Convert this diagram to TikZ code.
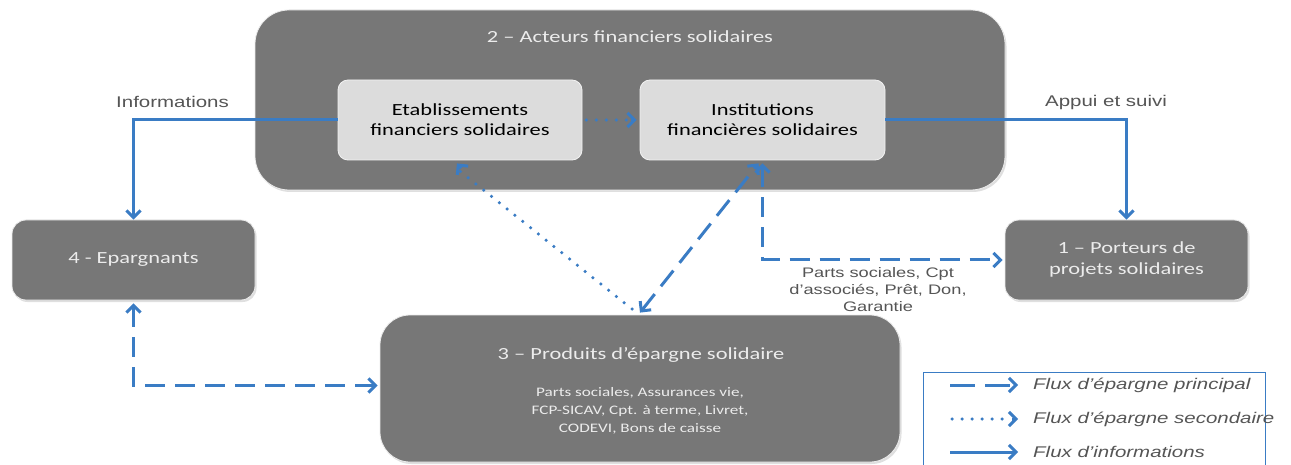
\documentclass[tikz,border=0pt]{standalone}
\usepackage{fontspec}
\setmainfont{Carlito}[FakeStretch=1.32]
\newfontfamily\arialf{Liberation Sans}[FakeStretch=1.32]
\usetikzlibrary{arrows.meta,shadows}
\definecolor{boxgray}{HTML}{777777}
\definecolor{lightbox}{HTML}{DCDCDC}
\definecolor{flowblue}{HTML}{3A7CC4}
\definecolor{txtgray}{HTML}{555555}
\definecolor{boxtxt}{HTML}{ECECEC}
\tikzset{
  x=1pt, y=-1pt,
  darkbox/.style={rectangle, rounded corners=14pt, fill=boxgray, draw=white!85!gray, line width=0.8pt,
    drop shadow={shadow xshift=1.5pt, shadow yshift=-2pt, opacity=0.25}, text=boxtxt, align=center, inner sep=0pt},
  lightbox/.style={rectangle, rounded corners=10pt, fill=lightbox, draw=white!90!gray, line width=0.8pt,
    drop shadow={shadow xshift=1pt, shadow yshift=-1.5pt, opacity=0.3}, text=black, align=center, inner sep=0pt,
    minimum width=244pt, minimum height=80pt, font=\fontsize{17}{20}\selectfont},
  tip/.style={-{Straight Barb[length=7pt,width=14pt,line width=3pt]}},
  bitip/.style={{Straight Barb[length=7pt,width=14pt,line width=3pt]}-{Straight Barb[length=7pt,width=14pt,line width=3pt]}},
  infoflow/.style={draw=flowblue, line width=3pt, tip},
  mainflow/.style={draw=flowblue, line width=3pt, dash pattern=on 20pt off 10pt},
  secflow/.style={draw=flowblue, line width=3.5pt, line cap=round, dash pattern=on 0pt off 10pt},
  flowlabel/.style={font=\arialf\fontsize{15.5}{18}\selectfont, text=txtgray, align=center, inner sep=0pt},
  legtext/.style={font=\arialf\itshape\fontsize{15.5}{18}\selectfont, text=txtgray, anchor=west, inner sep=0pt},
}
\begin{document}
\begin{tikzpicture}
\useasboundingbox[fill=white] (0,0) rectangle (1291,465);
% main boxes
\node[darkbox, rounded corners=34pt, minimum width=750pt, minimum height=180pt] (acteurs) at (630,100) {};
\node[text=boxtxt, font=\fontsize{17}{20}\selectfont, inner sep=0pt] (acteurstitle) at (630,37) {2 – Acteurs financiers solidaires};
\node[lightbox] (etab) at (460,120) {Etablissements\\financiers solidaires};
\node[lightbox, minimum width=245pt] (inst) at (762.5,120) {Institutions\\financières solidaires};
\node[darkbox, minimum width=243pt, minimum height=80pt, font=\fontsize{17}{21}\selectfont] (ep) at (133.5,260) {4 - Epargnants};
\node[darkbox, minimum width=243pt, minimum height=80pt, font=\fontsize{17}{21}\selectfont] (port) at (1126.5,260) {1 – Porteurs de\\projets solidaires};
\node[darkbox, rounded corners=30pt, minimum width=520pt, minimum height=147pt] (prod) at (640,388.5) {};
\node[text=boxtxt, font=\fontsize{17}{20}\selectfont, inner sep=0pt] (prodtitle) at (641,355) {3 – Produits d’épargne solidaire};
\node[text=boxtxt, font=\fontsize{13}{18}\selectfont, align=center, inner sep=0pt] (prodlist) at (640,410.5) {Parts sociales, Assurances vie,\\FCP-SICAV, Cpt. à terme, Livret,\\CODEVI, Bons de caisse};
% information flows
\draw[infoflow] (etab.west) -| (ep.north);
\draw[infoflow] (inst.east) -| (port.north);
\node[flowlabel] (infolabel) at (172.5,102) {Informations};
\node[flowlabel] (appuilabel) at (1106,102) {Appui et suivi};
% secondary flows
\draw[secflow] ([xshift=4pt]etab.east) -- ([xshift=-8pt]inst.west);
\draw[draw=flowblue, line width=3pt, tip] ([xshift=-9pt]inst.west) -- ([xshift=-3pt]inst.west);
\coordinate (dotend) at (632,309);
\draw[secflow] (dotend) -- ([xshift=-1pt,yshift=-10pt]etab.south);
\draw[draw=flowblue, line width=3pt, tip] ([xshift=1pt,yshift=-8pt]etab.south) -- ([xshift=-3pt,yshift=-3pt]etab.south);
% main flows
\draw[mainflow, bitip] ([yshift=-3pt]inst.south) |- ([xshift=-2pt]port.west);
\draw[mainflow, bitip] ([yshift=2pt]prod.north) -- ([xshift=-4pt,yshift=-3pt]inst.south);
\draw[mainflow, bitip] ([yshift=-3pt]ep.south) |- ([xshift=-2pt,yshift=3pt]prod.west);
\node[flowlabel, font=\arialf\fontsize{13.8}{17}\selectfont] (partslabel) at (878,290) {Parts sociales, Cpt\\d’associés, Prêt, Don,\\Garantie};
% legend
\draw[draw=flowblue, line width=1pt] (923,465) -- (923,372) -- (1265,372) -- (1265,465);
\coordinate (l1a) at (950,385); \coordinate (l1b) at (1018,385);
\coordinate (l2a) at (952,419); \coordinate (l2b) at (1018,419);
\coordinate (l3a) at (950,452); \coordinate (l3b) at (1018,452);
\draw[draw=flowblue, line width=3pt, dash pattern=on 25pt off 10pt, tip] (l1a) -- (l1b);
\draw[secflow] (l2a) -- ([xshift=-6pt]l2b);
\draw[draw=flowblue, line width=3pt, tip] ([xshift=-6pt]l2b) -- (l2b);
\draw[infoflow] (l3a) -- (l3b);
\node[legtext] (leg1) at (1033,385) {Flux d’épargne principal};
\node[legtext] (leg2) at (1033,419) {Flux d’épargne secondaire};
\node[legtext] (leg3) at (1033,452) {Flux d’informations};
\end{tikzpicture}
\end{document}
